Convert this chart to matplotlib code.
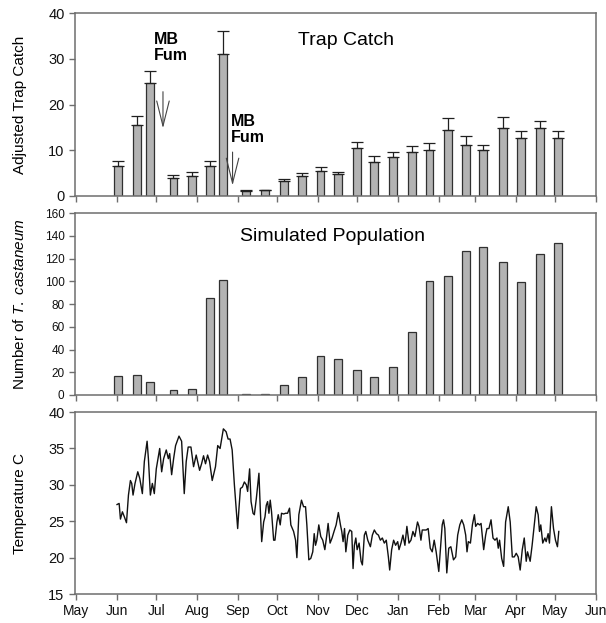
import matplotlib
matplotlib.use("Agg")
import matplotlib.pyplot as plt
import matplotlib.dates as mdates
import pandas as pd

plt.rcParams["font.family"] = ["Liberation Sans", "DejaVu Sans"]
plt.rcParams["mathtext.fontset"] = "custom"
plt.rcParams["mathtext.rm"] = "Liberation Sans"
plt.rcParams["mathtext.it"] = "Liberation Sans:italic"

# sample dates (biweekly trap checks)
sample_dates = ["2005-06-02", "2005-06-16", "2005-06-26", "2005-07-14", "2005-07-28",
                "2005-08-11", "2005-08-21", "2005-09-07", "2005-09-22", "2005-10-06",
                "2005-10-20", "2005-11-03", "2005-11-16", "2005-12-01", "2005-12-14",
                "2005-12-28", "2006-01-12", "2006-01-25", "2006-02-08", "2006-02-22",
                "2006-03-07", "2006-03-22", "2006-04-05", "2006-04-19", "2006-05-03"]

trap_catch = [6.6, 15.6, 24.6, 3.9, 4.45, 6.6, 31.1, 1.1, 1.25, 3.2, 4.4, 5.4, 4.7,
              10.4, 7.4, 8.5, 9.6, 10.1, 14.5, 11.2, 10.0, 14.9, 12.7, 14.9, 12.7]
trap_err = [1.1, 1.8, 2.7, 0.6, 0.75, 1.1, 5.0, 0.15, 0.15, 0.6, 0.7, 0.9, 0.6,
            1.5, 1.3, 1.1, 1.4, 1.4, 2.5, 1.9, 1.2, 2.3, 1.5, 1.5, 1.5]

sim_pop = [17, 18, 11, 4, 5, 85, 101, 1, 0.5, 9, 15.5, 34.5, 31.3, 22, 15.5, 24.3,
           55.6, 100.4, 105, 126.7, 130.2, 117.4, 99.2, 124.4, 134]

# temperature trace, days after 1 June
temp_day = [0.0, 1.6, 2.6, 4.1, 5.6, 7.2, 8.7, 10.2, 11.2, 12.2, 13.7, 15.8, 17.3, 19.3,
            20.8, 22.9, 23.9, 25.4, 26.9, 28.4, 29.9, 32.5, 34.0, 35.5, 37.5, 39.1, 40.1,
            41.6, 43.1, 44.6, 47.2, 49.2, 51.2, 52.7, 54.2, 56.3, 58.3, 60.3, 62.9, 64.4,
            65.9, 67.4, 69.0, 70.5, 72.5, 75.0, 76.7, 78.5, 81.0, 83.1, 84.6, 86.1, 87.7,
            89.4, 90.9, 91.9, 92.9, 94.0, 95.5, 97.0, 98.5, 99.5, 101.0, 102.1, 103.6,
            104.6, 106.1, 108.1, 109.1, 110.2, 111.7, 112.7, 113.7, 114.7, 115.7, 116.7,
            117.7, 119.3, 120.3, 121.8, 122.8, 124.3, 125.3, 126.9, 128.4, 129.9, 131.4,
            132.4, 134.5, 136.0, 137.0, 138.5, 140.5, 142.1, 143.6, 144.6, 146.1, 147.6,
            149.1, 150.2, 151.2, 152.2, 153.7, 155.2, 156.7, 158.3, 159.8, 160.8, 162.3,
            163.8, 165.3, 166.9, 168.6, 170.2, 171.2, 172.2, 173.3, 174.3, 175.8, 177.3,
            178.8, 179.8, 180.8, 181.9, 182.9, 184.4, 185.9, 186.9, 188.4, 189.5, 191.0,
            193.0, 194.5, 196.0, 197.6, 199.1, 200.6, 202.1, 203.6, 205.1, 206.7, 207.7,
            209.2, 210.7, 212.2, 213.8, 214.8, 216.3, 217.8, 219.3, 220.8, 222.4, 223.9,
            225.4, 226.9, 228.9, 230.0, 231.5, 232.5, 234.0, 235.5, 237.0, 238.6, 240.1,
            241.6, 243.1, 245.1, 246.2, 247.7, 248.7, 249.7, 251.2, 252.7, 254.3, 256.3,
            258.0, 259.5, 261.1, 262.6, 264.1, 265.6, 266.6, 267.6, 269.2, 270.7, 272.2,
            273.2, 274.7, 276.2, 277.3, 279.3, 280.8, 281.8, 283.3, 284.9, 286.4, 287.9,
            289.4, 290.4, 291.4, 293.0, 294.5, 296.0, 298.0, 299.5, 301.1, 302.6, 304.1,
            305.6, 307.1, 308.7, 310.2, 311.7, 312.7, 314.7, 316.2, 317.8, 319.3, 320.8,
            321.8, 322.8, 324.3, 325.9, 326.9, 328.4, 329.4, 330.9, 332.5, 334.0, 335.5,
            336.5]
temp_c = [27.3, 27.45, 25.3, 26.3, 25.6, 24.8, 28.6, 30.6, 30.2, 28.6, 30.2, 31.8, 30.9,
          28.8, 33.2, 36.0, 33.6, 28.6, 30.2, 28.8, 32.2, 35.0, 31.8, 33.6, 34.8, 33.6,
          34.3, 31.4, 33.6, 35.4, 36.7, 36.0, 28.8, 33.2, 35.2, 35.2, 32.5, 34.1, 32.0,
          32.9, 34.0, 32.9, 34.1, 33.2, 30.6, 32.5, 35.4, 35.0, 37.7, 37.3, 36.3, 36.3,
          34.8, 30.0, 26.3, 24.0, 26.8, 29.5, 29.7, 30.4, 30.0, 29.1, 32.2, 27.7, 26.1,
          25.9, 28.1, 31.6, 26.8, 22.2, 24.9, 25.6, 27.2, 27.7, 26.1, 27.9, 26.3, 22.4,
          22.4, 24.9, 25.9, 24.5, 26.1, 26.0, 26.1, 26.1, 26.8, 24.5, 23.6, 22.4, 20.0,
          25.9, 27.9, 27.0, 27.0, 24.5, 19.7, 19.9, 20.8, 23.3, 21.7, 22.4, 24.5, 22.9,
          22.4, 21.1, 23.1, 24.7, 22.0, 22.7, 23.6, 24.5, 26.2, 24.5, 23.6, 22.2, 24.0,
          20.8, 23.1, 23.8, 23.6, 18.5, 21.7, 22.7, 21.1, 22.0, 19.5, 19.0, 23.1, 23.6,
          22.4, 21.5, 23.1, 23.8, 23.3, 23.1, 22.4, 22.7, 22.0, 22.4, 20.1, 18.3, 21.1,
          22.4, 21.7, 22.2, 21.1, 22.0, 23.1, 21.7, 24.3, 22.0, 22.4, 23.6, 22.9, 24.9,
          24.3, 22.4, 23.8, 23.8, 23.8, 24.0, 21.3, 20.8, 22.4, 20.8, 18.1, 20.8, 24.5,
          25.2, 24.0, 17.9, 21.3, 21.5, 19.7, 20.1, 23.1, 24.5, 25.2, 24.5, 23.1, 20.8,
          22.2, 22.0, 24.5, 25.9, 24.3, 24.7, 24.5, 24.7, 21.1, 23.1, 24.0, 24.0, 25.2,
          22.7, 22.4, 22.7, 21.3, 22.4, 19.9, 18.8, 24.9, 27.0, 24.9, 20.1, 20.1, 20.6,
          20.1, 18.3, 21.1, 22.7, 19.5, 20.8, 19.5, 21.7, 24.5, 27.0, 25.9, 23.6, 24.5,
          22.0, 22.7, 22.2, 23.3, 22.0, 27.0, 24.0, 22.4, 21.5, 23.6]

bar_x = pd.to_datetime(sample_dates)
temp_x = pd.Timestamp("2005-06-01") + pd.to_timedelta(temp_day, unit="D")

fig = plt.figure(figsize=(6.06, 6.23), dpi=100)
ax1 = fig.add_axes([0.1238, 0.6854, 0.86, 0.2937])
ax2 = fig.add_axes([0.1238, 0.366, 0.86, 0.292])
ax3 = fig.add_axes([0.1238, 0.0465, 0.86, 0.292])

bar_color = "#b3b3b3"
edge = "#303030"
spine_color = "#6e6e6e"

ax1.bar(bar_x, trap_catch, width=6, color=bar_color, edgecolor=edge, linewidth=0.9)
ax1.errorbar(bar_x, trap_catch, yerr=[[0] * len(trap_err), trap_err], fmt="none",
             ecolor="#202020", elinewidth=0.9, capsize=4, capthick=0.9)
ax2.bar(bar_x, sim_pop, width=6, color=bar_color, edgecolor=edge, linewidth=0.9)
ax3.plot(temp_x, temp_c, color="#111111", linewidth=1.0)

ax1.set_ylim(0, 40)
ax1.set_yticks(range(0, 41, 10))
ax2.set_ylim(0, 160)
ax2.set_yticks(range(0, 161, 20))
ax3.set_ylim(15, 40)
ax3.set_yticks(range(15, 41, 5))

for ax in (ax1, ax2, ax3):
    ax.set_xlim(pd.Timestamp("2005-04-30"), pd.Timestamp("2006-06-01"))
    ax.xaxis.set_major_locator(mdates.MonthLocator())
    ax.xaxis.set_major_formatter(mdates.DateFormatter("%b"))
    for s in ax.spines.values():
        s.set_color(spine_color)
        s.set_linewidth(1.1)
    ax.tick_params(direction="out", length=4, width=1, color=spine_color,
                   labelsize=10.5, labelcolor="#111111")
    ax.yaxis.set_label_coords(-0.092, 0.5)

ax1.tick_params(axis="x", labelbottom=False)
ax2.tick_params(axis="x", labelbottom=False)
ax2.tick_params(axis="y", labelsize=8.5)
ax3.tick_params(axis="x", labelsize=10)

ax1.set_ylabel("Adjusted Trap Catch", fontsize=11)
ax2.set_ylabel("Number of $\\mathit{T.\\ castaneum}$", fontsize=11)
ax3.set_ylabel("Temperature C", fontsize=11)

ax1.text(0.52, 0.852, "Trap Catch", transform=ax1.transAxes, ha="center",
         va="center", fontsize=14)
ax2.text(0.495, 0.87, "Simulated Population", transform=ax2.transAxes,
         ha="center", va="center", fontsize=14)

ax1.text(pd.Timestamp("2005-06-29"), 35.9, "MB\nFum", fontsize=11.5,
         fontweight="bold", ha="left", va="top", linespacing=1.1)
ax1.text(pd.Timestamp("2005-08-27"), 17.9, "MB\nFum", fontsize=11.5,
         fontweight="bold", ha="left", va="top", linespacing=1.1)
arrow = dict(arrowstyle="->,head_length=1.8,head_width=0.45", color="#444444",
             lw=0.8, shrinkA=0, shrinkB=0, mutation_scale=10)
ax1.annotate("", xy=(pd.Timestamp("2005-07-06"), 14.8),
             xytext=(pd.Timestamp("2005-07-06"), 22.8), arrowprops=arrow)
ax1.annotate("", xy=(pd.Timestamp("2005-08-28"), 2.3),
             xytext=(pd.Timestamp("2005-08-28"), 9.6), arrowprops=arrow)

fig.savefig("out.png", dpi=100)
